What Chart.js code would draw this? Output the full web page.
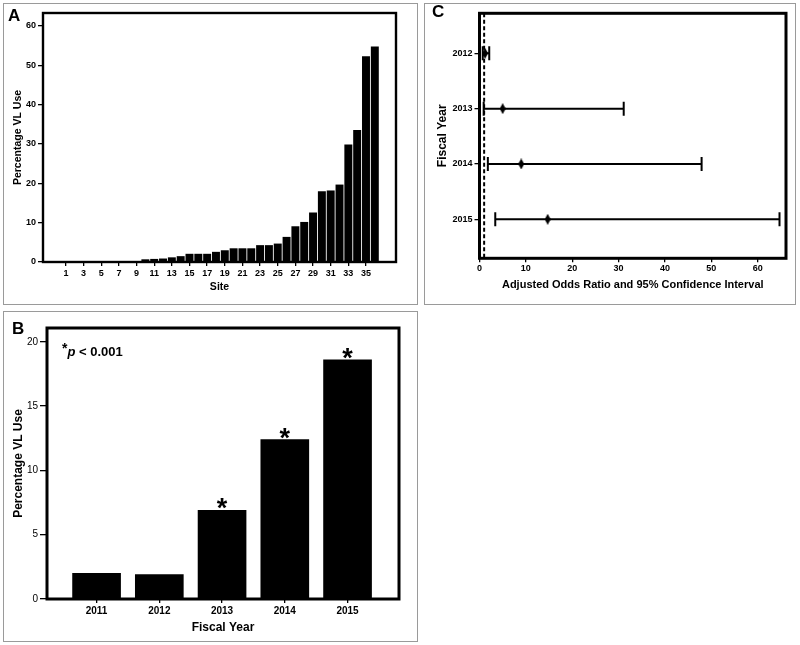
<!DOCTYPE html>
<html>
<head>
<meta charset="utf-8">
<title>VL Use</title>
<script src="https://cdn.jsdelivr.net/npm/chart.js@4.4.0/dist/chart.umd.min.js"></script>
<style>
html, body { margin: 0; padding: 0; background: #fff; width: 800px; height: 645px; overflow: hidden; font-family: "Liberation Sans", Arial, sans-serif; }
.panel { position: absolute; box-sizing: border-box; border: 1.5px solid #9a9a9a; }
.box { position: absolute; }
.tag { position: absolute; font-weight: bold; font-size: 17px; line-height: 1; color: #000; }
.note { position: absolute; font-weight: bold; font-size: 13px; line-height: 1; color: #000; white-space: nowrap; }
</style>
</head>
<body>

<div class="panel" style="left:3px;top:3px;width:415px;height:302px"></div>
<div class="panel" style="left:3px;top:311px;width:415px;height:331px"></div>
<div class="panel" style="left:424px;top:3px;width:372px;height:302px"></div>

<div class="box" style="left:4px;top:4px;width:413px;height:300px"><canvas id="chartA"></canvas></div>
<div class="box" style="left:4px;top:312px;width:413px;height:329px"><canvas id="chartB"></canvas></div>
<div class="box" style="left:425px;top:4px;width:370px;height:300px"><canvas id="chartC"></canvas></div>

<div class="tag" style="left:8px;top:7px">A</div>
<div class="tag" style="left:12px;top:320px">B</div>
<div class="tag" style="left:432px;top:3px">C</div>
<div class="note" style="left:62px;top:344px"><span style="position:relative;top:-3px;font-size:14px">*</span><i>p</i> &lt; 0.001</div>

<script>
// ---------- Panel A: VL use by site ----------
const sites = [1, 2, 3, 4, 5, 6, 7, 8, 9, 10, 11, 12, 13, 14, 15, 16, 17, 18,
               19, 20, 21, 22, 23, 24, 25, 26, 27, 28, 29, 30, 31, 32, 33, 34, 35, 36];
const siteVLUse = [0, 0, 0, 0, 0, 0, 0, 0, 0, 0.6, 0.7, 0.8, 1.1, 1.4, 2.0, 2.0, 2.0, 2.5,
                   2.9, 3.4, 3.4, 3.4, 4.2, 4.2, 4.6, 6.3, 9.0, 10.1, 12.5, 17.9, 18.1, 19.6, 29.8, 33.5, 52.2, 54.7];
const siteTicks = [1, 3, 5, 7, 9, 11, 13, 15, 17, 19, 21, 23, 25, 27, 29, 31, 33, 35];
const siteYTicks = [0, 10, 20, 30, 40, 50, 60];

// ---------- Panel B: VL use by fiscal year ----------
const fiscalYears = [2011, 2012, 2013, 2014, 2015];
const yearVLUse = [2.0, 1.9, 6.9, 12.4, 18.6];
const yearSig = ['', '', '*', '*', '*'];
const yearYTicks = [0, 5, 10, 15, 20];

// ---------- Panel C: adjusted odds ratios ----------
const orYears = [2012, 2013, 2014, 2015];
const orEstimate = [1.2, 5.0, 9.0, 14.7];
const ciLower = [0.7, 0.9, 1.8, 3.4];
const ciUpper = [2.1, 31.1, 47.9, 64.7];
const orXTicks = [0, 10, 20, 30, 40, 50, 60];
const refOR = 1;

const FONT = "'Liberation Sans', Arial, sans-serif";
Chart.defaults.font.family = FONT;
Chart.defaults.color = '#000';
Chart.defaults.animation = false;

// black box round the plot area
const framePlugin = {
    id: 'frame',
    afterDatasetsDraw(chart, args, opts) {
        const { ctx, chartArea: a } = chart;
        ctx.save();
        ctx.lineWidth = opts.width || 2;
        ctx.strokeStyle = '#000';
        ctx.strokeRect(a.left, a.top, a.right - a.left, a.bottom - a.top);
        ctx.restore();
    }
};

function fixTicks(list) {
    return scale => { scale.ticks = list.map(v => ({ value: v })); };
}

function tickGrid(len) {
    return { offset: false, drawOnChartArea: false, drawTicks: true, tickLength: len, color: '#000', lineWidth: 1.3 };
}

// ---------- A ----------
new Chart(document.getElementById('chartA'), {
    type: 'bar',
    data: {
        datasets: [{
            data: sites.map((s, i) => ({ x: s, y: siteVLUse[i] })),
            backgroundColor: '#000',
            barThickness: 7.3
        }]
    },
    options: {
        responsive: true,
        maintainAspectRatio: false,
        layout: { padding: { left: 0, top: 9, right: 21, bottom: 0 } },
        plugins: { legend: { display: false }, tooltip: { enabled: false }, frame: { width: 2.4 } },
        scales: {
            x: {
                type: 'linear', min: -1.6, max: 38.4, offset: false,
                afterBuildTicks: fixTicks(siteTicks),
                afterFit: s => { s.height = 42; },
                grid: tickGrid(4), border: { display: false },
                ticks: { padding: 2, font: { size: 9, weight: 'bold' }, callback: v => String(v) },
                title: { display: true, text: 'Site', font: { size: 10.5, weight: 'bold' }, padding: { top: 0, bottom: 10.5 } }
            },
            y: {
                min: 0, max: 63.3,
                afterBuildTicks: fixTicks(siteYTicks),
                afterFit: s => { s.width = 39; },
                grid: tickGrid(5), border: { display: false },
                ticks: { padding: 2, font: { size: 9, weight: 'bold' } },
                title: { display: true, text: 'Percentage VL Use', font: { size: 10.5, weight: 'bold' }, padding: { top: 7.5, bottom: 0 } }
            }
        }
    },
    plugins: [framePlugin]
});

// ---------- B ----------
const starPlugin = {
    id: 'stars',
    afterDatasetsDraw(chart) {
        const { ctx } = chart;
        const meta = chart.getDatasetMeta(0);
        ctx.save();
        ctx.fillStyle = '#000';
        ctx.font = 'bold 27px ' + FONT;
        ctx.textAlign = 'center';
        ctx.textBaseline = 'alphabetic';
        meta.data.forEach((bar, i) => {
            if (yearSig[i]) ctx.fillText(yearSig[i], bar.x, bar.y + 7);
        });
        ctx.restore();
    }
};

new Chart(document.getElementById('chartB'), {
    type: 'bar',
    data: {
        datasets: [{
            data: fiscalYears.map((yr, i) => ({ x: yr, y: yearVLUse[i] })),
            backgroundColor: '#000',
            barThickness: 48
        }]
    },
    options: {
        responsive: true,
        maintainAspectRatio: false,
        layout: { padding: { left: 0, top: 16, right: 18, bottom: 0 } },
        plugins: { legend: { display: false }, tooltip: { enabled: false }, frame: { width: 3 } },
        scales: {
            x: {
                type: 'linear', min: 2010.21, max: 2015.82, offset: false,
                afterBuildTicks: fixTicks(fiscalYears),
                afterFit: s => { s.height = 42; },
                grid: tickGrid(4), border: { display: false },
                ticks: { padding: 2, font: { size: 10, weight: 'bold' }, callback: v => String(v) },
                title: { display: true, text: 'Fiscal Year', font: { size: 12, weight: 'bold' }, padding: { top: 0, bottom: 6 } }
            },
            y: {
                min: 0, max: 21.07,
                afterBuildTicks: fixTicks(yearYTicks),
                afterFit: s => { s.width = 43; },
                grid: tickGrid(7), border: { display: false },
                ticks: { padding: 2, font: { size: 10 } },
                title: { display: true, text: 'Percentage VL Use', font: { size: 12, weight: 'bold' }, padding: { top: 7, bottom: 0 } }
            }
        }
    },
    plugins: [framePlugin, starPlugin]
});

// ---------- C ----------
function makeDiamond(w, h) {
    const c = document.createElement('canvas');
    c.width = w; c.height = h;
    const g = c.getContext('2d');
    g.fillStyle = '#000';
    g.beginPath();
    g.moveTo(w / 2, 0); g.lineTo(w, h / 2); g.lineTo(w / 2, h); g.lineTo(0, h / 2);
    g.closePath();
    g.fill();
    return c;
}

// confidence interval whiskers with end caps
const ciPlugin = {
    id: 'ci',
    beforeDatasetsDraw(chart) {
        const { ctx, scales: { x, y } } = chart;
        ctx.save();
        ctx.strokeStyle = '#000';
        ctx.lineWidth = 2;
        orYears.forEach((yr, i) => {
            const py = y.getPixelForValue(yr);
            const x1 = x.getPixelForValue(ciLower[i]);
            const x2 = x.getPixelForValue(ciUpper[i]);
            ctx.beginPath();
            ctx.moveTo(x1, py); ctx.lineTo(x2, py);
            ctx.moveTo(x1, py - 7); ctx.lineTo(x1, py + 7);
            ctx.moveTo(x2, py - 7); ctx.lineTo(x2, py + 7);
            ctx.stroke();
        });
        ctx.restore();
    }
};

const yMinC = 2011.277, yMaxC = 2015.705;

new Chart(document.getElementById('chartC'), {
    type: 'scatter',
    data: {
        datasets: [
            {
                type: 'line',
                data: [{ x: refOR, y: yMinC }, { x: refOR, y: yMaxC }],
                borderColor: '#000',
                borderWidth: 2,
                borderDash: [4, 2.5],
                pointRadius: 0
            },
            {
                data: orYears.map((yr, i) => ({ x: orEstimate[i], y: yr })),
                pointStyle: makeDiamond(6, 11),
                pointRadius: 6
            }
        ]
    },
    options: {
        responsive: true,
        maintainAspectRatio: false,
        layout: { padding: { left: 0, top: 9.3, right: 9, bottom: 0 } },
        plugins: { legend: { display: false }, tooltip: { enabled: false }, frame: { width: 3 } },
        scales: {
            x: {
                type: 'linear', min: 0, max: 66.1,
                afterBuildTicks: fixTicks(orXTicks),
                afterFit: s => { s.height = 45.7; },
                grid: tickGrid(4), border: { display: false },
                ticks: { padding: 1, font: { size: 9, weight: 'bold' } },
                title: { display: true, text: 'Adjusted Odds Ratio and 95% Confidence Interval', font: { size: 11, weight: 'bold' }, padding: { top: 0, bottom: 12 } }
            },
            y: {
                type: 'linear', min: yMinC, max: yMaxC, reverse: true,
                afterBuildTicks: fixTicks(orYears),
                afterFit: s => { s.width = 54.5; },
                grid: tickGrid(5), border: { display: false },
                ticks: { padding: 2, font: { size: 9, weight: 'bold' }, callback: v => String(v) },
                title: { display: true, text: 'Fiscal Year', font: { size: 12, weight: 'bold' }, padding: { top: 10.5, bottom: 0 } }
            }
        }
    },
    plugins: [framePlugin, ciPlugin]
});
</script>
</body>
</html>
